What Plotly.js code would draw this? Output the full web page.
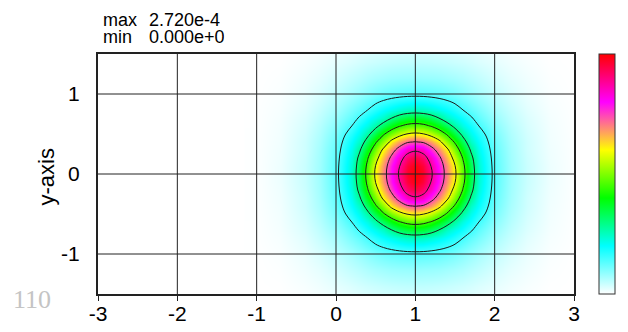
<!DOCTYPE html>
<html>
<head>
<meta charset="utf-8">
<script src="https://cdn.plot.ly/plotly-3.0.1.min.js"></script>
<style>
  html, body { margin: 0; padding: 0; background: #fff; }
  #chart { width: 628px; height: 332px; }
</style>
</head>
<body>
<div id="chart"></div>
<script>
// Intensity map, z in units of 1e-4 on a rectilinear grid (finer near the peak).
const Z_UNIT = 1e-4;
const xGrid = [-1.0, -0.7, -0.4, -0.2, 0.0, 0.2, 0.3, 0.4, 0.5, 0.6, 0.7, 0.8, 0.9, 1.0,
               1.1, 1.2, 1.3, 1.4, 1.5, 1.6, 1.7, 1.8, 2.0, 2.2, 2.4, 2.7, 3.0];
const yGrid = [-1.6, -1.4, -1.2, -1.0, -0.8, -0.7, -0.6, -0.5, -0.4, -0.3, -0.2, -0.1, 0.0,
               0.1, 0.2, 0.3, 0.4, 0.5, 0.6, 0.7, 0.8, 1.0, 1.2, 1.4, 1.6];
const zGrid = [
  [0,0.001,0.007,0.016,0.029,0.043,0.050,0.056,0.062,0.066,0.069,0.073,0.076,0.076,0.076,0.073,0.069,0.066,0.062,0.056,0.050,0.043,0.029,0.016,0.007,0.001,0],
  [0,0.002,0.017,0.032,0.054,0.077,0.091,0.103,0.112,0.121,0.128,0.133,0.136,0.136,0.136,0.133,0.128,0.121,0.112,0.103,0.091,0.077,0.054,0.032,0.017,0.002,0],
  [0,0.007,0.031,0.054,0.089,0.130,0.149,0.170,0.186,0.199,0.212,0.218,0.220,0.226,0.220,0.218,0.212,0.199,0.186,0.170,0.149,0.130,0.089,0.054,0.031,0.007,0],
  [0.001,0.012,0.044,0.081,0.131,0.187,0.220,0.253,0.285,0.310,0.329,0.342,0.351,0.354,0.351,0.342,0.329,0.310,0.285,0.253,0.220,0.187,0.131,0.081,0.044,0.012,0.001],
  [0.003,0.019,0.064,0.118,0.187,0.286,0.338,0.401,0.473,0.534,0.586,0.636,0.672,0.685,0.672,0.636,0.586,0.534,0.473,0.401,0.338,0.286,0.187,0.118,0.064,0.019,0.003],
  [0.003,0.023,0.076,0.136,0.220,0.338,0.418,0.510,0.587,0.668,0.795,0.898,0.966,0.993,0.966,0.898,0.795,0.668,0.587,0.510,0.418,0.338,0.220,0.136,0.076,0.023,0.003],
  [0.003,0.026,0.085,0.154,0.253,0.401,0.510,0.603,0.740,0.903,1.060,1.186,1.265,1.292,1.265,1.186,1.060,0.903,0.740,0.603,0.510,0.401,0.253,0.154,0.085,0.026,0.003],
  [0.004,0.028,0.094,0.169,0.285,0.473,0.587,0.740,0.950,1.170,1.358,1.507,1.610,1.646,1.610,1.507,1.358,1.170,0.950,0.740,0.587,0.473,0.285,0.169,0.094,0.028,0.004],
  [0.005,0.030,0.102,0.182,0.310,0.534,0.668,0.903,1.170,1.416,1.673,1.847,1.975,2.013,1.975,1.847,1.673,1.416,1.170,0.903,0.668,0.534,0.310,0.182,0.102,0.030,0.005],
  [0.005,0.033,0.103,0.192,0.329,0.580,0.777,1.060,1.358,1.659,1.893,2.111,2.315,2.366,2.315,2.111,1.893,1.659,1.358,1.060,0.777,0.580,0.329,0.192,0.103,0.033,0.005],
  [0.005,0.035,0.109,0.198,0.342,0.615,0.865,1.186,1.507,1.792,2.054,2.307,2.494,2.584,2.494,2.307,2.054,1.792,1.507,1.186,0.865,0.615,0.342,0.198,0.109,0.035,0.005],
  [0.005,0.038,0.114,0.201,0.351,0.636,0.917,1.265,1.610,1.877,2.149,2.394,2.603,2.693,2.603,2.394,2.149,1.877,1.610,1.265,0.917,0.636,0.351,0.201,0.114,0.038,0.005],
  [0.005,0.038,0.114,0.204,0.354,0.645,0.938,1.292,1.646,1.904,2.176,2.434,2.652,2.720,2.652,2.434,2.176,1.904,1.646,1.292,0.938,0.645,0.354,0.204,0.114,0.038,0.005],
  [0.005,0.038,0.114,0.201,0.351,0.636,0.917,1.265,1.610,1.877,2.149,2.394,2.603,2.693,2.603,2.394,2.149,1.877,1.610,1.265,0.917,0.636,0.351,0.201,0.114,0.038,0.005],
  [0.005,0.035,0.109,0.198,0.342,0.615,0.865,1.186,1.507,1.792,2.054,2.307,2.494,2.584,2.494,2.307,2.054,1.792,1.507,1.186,0.865,0.615,0.342,0.198,0.109,0.035,0.005],
  [0.005,0.033,0.103,0.192,0.329,0.580,0.777,1.060,1.358,1.659,1.893,2.111,2.315,2.366,2.315,2.111,1.893,1.659,1.358,1.060,0.777,0.580,0.329,0.192,0.103,0.033,0.005],
  [0.005,0.030,0.102,0.182,0.310,0.534,0.668,0.903,1.170,1.416,1.673,1.847,1.975,2.013,1.975,1.847,1.673,1.416,1.170,0.903,0.668,0.534,0.310,0.182,0.102,0.030,0.005],
  [0.004,0.028,0.094,0.169,0.285,0.473,0.587,0.740,0.950,1.170,1.358,1.507,1.610,1.646,1.610,1.507,1.358,1.170,0.950,0.740,0.587,0.473,0.285,0.169,0.094,0.028,0.004],
  [0.003,0.026,0.085,0.154,0.253,0.401,0.510,0.603,0.740,0.903,1.060,1.186,1.265,1.292,1.265,1.186,1.060,0.903,0.740,0.603,0.510,0.401,0.253,0.154,0.085,0.026,0.003],
  [0.003,0.023,0.076,0.136,0.220,0.338,0.418,0.510,0.587,0.668,0.795,0.898,0.966,0.993,0.966,0.898,0.795,0.668,0.587,0.510,0.418,0.338,0.220,0.136,0.076,0.023,0.003],
  [0.003,0.019,0.064,0.118,0.187,0.286,0.338,0.401,0.473,0.534,0.586,0.636,0.672,0.685,0.672,0.636,0.586,0.534,0.473,0.401,0.338,0.286,0.187,0.118,0.064,0.019,0.003],
  [0.001,0.012,0.044,0.081,0.131,0.187,0.220,0.253,0.285,0.310,0.329,0.342,0.351,0.354,0.351,0.342,0.329,0.310,0.285,0.253,0.220,0.187,0.131,0.081,0.044,0.012,0.001],
  [0,0.007,0.031,0.054,0.089,0.130,0.149,0.170,0.186,0.199,0.212,0.218,0.220,0.226,0.220,0.218,0.212,0.199,0.186,0.170,0.149,0.130,0.089,0.054,0.031,0.007,0],
  [0,0.002,0.017,0.032,0.054,0.077,0.091,0.103,0.112,0.121,0.128,0.133,0.136,0.136,0.136,0.133,0.128,0.121,0.112,0.103,0.091,0.077,0.054,0.032,0.017,0.002,0],
  [0,0.001,0.007,0.016,0.029,0.043,0.050,0.056,0.062,0.066,0.069,0.073,0.076,0.076,0.076,0.073,0.069,0.066,0.062,0.056,0.050,0.043,0.029,0.016,0.007,0.001,0]
];

// Iso-lines every 0.4e-4
const contourLevels = [0.4, 0.8, 1.2, 1.6, 2.0, 2.4];

const xTicks = [-3, -2, -1, 0, 1, 2, 3];
const yTicks = [-1, 0, 1];
const xRange = [-3, 3];
const yRange = [-1.5, 1.5];

const colorStops = [
  [0.0, '#ffffff'],
  [0.2, '#00ffff'],
  [0.4, '#00ff00'],
  [0.6, '#ffff00'],
  [0.8, '#ff00ff'],
  [1.0, '#ff0000']
];

const allZ = zGrid.flat();
const zMax = Math.max(...allZ);
const zMin = Math.min(...allZ);

const FONT = 'Liberation Sans, Arial, sans-serif';
const L = 98, R = 49, T = 54, B = 38;
const plotW = 628 - L - R;
const plotH = 332 - T - B;

const heat = {
  type: 'heatmap',
  x: xGrid, y: yGrid, z: zGrid,
  zsmooth: 'best',
  zmin: 0, zmax: zMax,
  colorscale: colorStops,
  hoverinfo: 'skip',
  showscale: true,
  colorbar: {
    x: (604 - L) / plotW, xanchor: 'left', xpad: 0,
    y: 0.5, yanchor: 'middle', ypad: 0,
    len: 1, lenmode: 'fraction',
    thickness: 16,
    outlinecolor: '#333', outlinewidth: 1,
    showticklabels: false, ticks: ''
  }
};

const lines = {
  type: 'contour',
  x: xGrid, y: yGrid, z: zGrid,
  autocontour: false,
  contours: { start: contourLevels[0], end: contourLevels[contourLevels.length - 1],
              size: contourLevels[1] - contourLevels[0], coloring: 'none' },
  line: { color: '#1a1a1a', width: 1, smoothing: 1.1 },
  showscale: false,
  hoverinfo: 'skip'
};

// grid lines drawn over the image
const shapes = [];
xTicks.slice(1, -1).forEach(v => shapes.push({
  type: 'line', layer: 'above', xref: 'x', yref: 'paper', x0: v, x1: v, y0: 0, y1: 1,
  line: { color: '#222', width: 1 }
}));
yTicks.forEach(v => shapes.push({
  type: 'line', layer: 'above', xref: 'paper', yref: 'y', x0: 0, x1: 1, y0: v, y1: v,
  line: { color: '#222', width: 1 }
}));

const fmt = v => (v * Z_UNIT).toExponential(3);
const px = p => (p - L) / plotW;
const py = p => ((332 - B) - p) / plotH;

const statFont = { family: FONT, size: 18, color: '#000' };

const layout = {
  width: 628, height: 332,
  margin: { l: L, r: R, t: T, b: B },
  paper_bgcolor: '#fff', plot_bgcolor: '#fff',
  showlegend: false,
  font: { family: FONT, color: '#000' },
  xaxis: {
    range: xRange, tickvals: xTicks, ticktext: xTicks.map(String),
    showgrid: false, zeroline: false,
    showline: true, mirror: true, linecolor: '#222', linewidth: 2,
    ticks: 'outside', ticklen: 5, tickcolor: '#222', tickwidth: 1,
    ticklabelstandoff: -5,
    tickfont: { family: FONT, size: 21, color: '#000' }
  },
  yaxis: {
    range: yRange, tickvals: yTicks, ticktext: yTicks.map(String),
    showgrid: false, zeroline: false,
    showline: true, mirror: true, linecolor: '#222', linewidth: 2,
    ticks: '', ticklabelstandoff: 12,
    tickfont: { family: FONT, size: 21, color: '#000' }
  },
  shapes: shapes,
  annotations: [
    { xref: 'paper', yref: 'paper', x: px(45), y: py(177), xanchor: 'center', yanchor: 'middle',
      textangle: -90, text: 'y-axis', showarrow: false, font: { family: FONT, size: 22, color: '#000' } },
    { xref: 'paper', yref: 'paper', x: px(101), y: py(19), xanchor: 'left', yanchor: 'middle', height: 17,
      text: 'max', showarrow: false, font: statFont },
    { xref: 'paper', yref: 'paper', x: px(148), y: py(19), xanchor: 'left', yanchor: 'middle', height: 17,
      text: fmt(zMax), showarrow: false, font: statFont },
    { xref: 'paper', yref: 'paper', x: px(101), y: py(36.5), xanchor: 'left', yanchor: 'middle', height: 17,
      text: 'min', showarrow: false, font: statFont },
    { xref: 'paper', yref: 'paper', x: px(148), y: py(36.5), xanchor: 'left', yanchor: 'middle', height: 17,
      text: fmt(zMin), showarrow: false, font: statFont },
    { xref: 'paper', yref: 'paper', x: px(10), y: py(299), xanchor: 'left', yanchor: 'middle',
      text: '110', showarrow: false, font: { family: 'Liberation Serif, Times New Roman, serif', size: 26, color: '#c4c4c4' } }
  ]
};

Plotly.newPlot('chart', [heat, lines], layout, { staticPlot: true, displayModeBar: false });
</script>
</body>
</html>
